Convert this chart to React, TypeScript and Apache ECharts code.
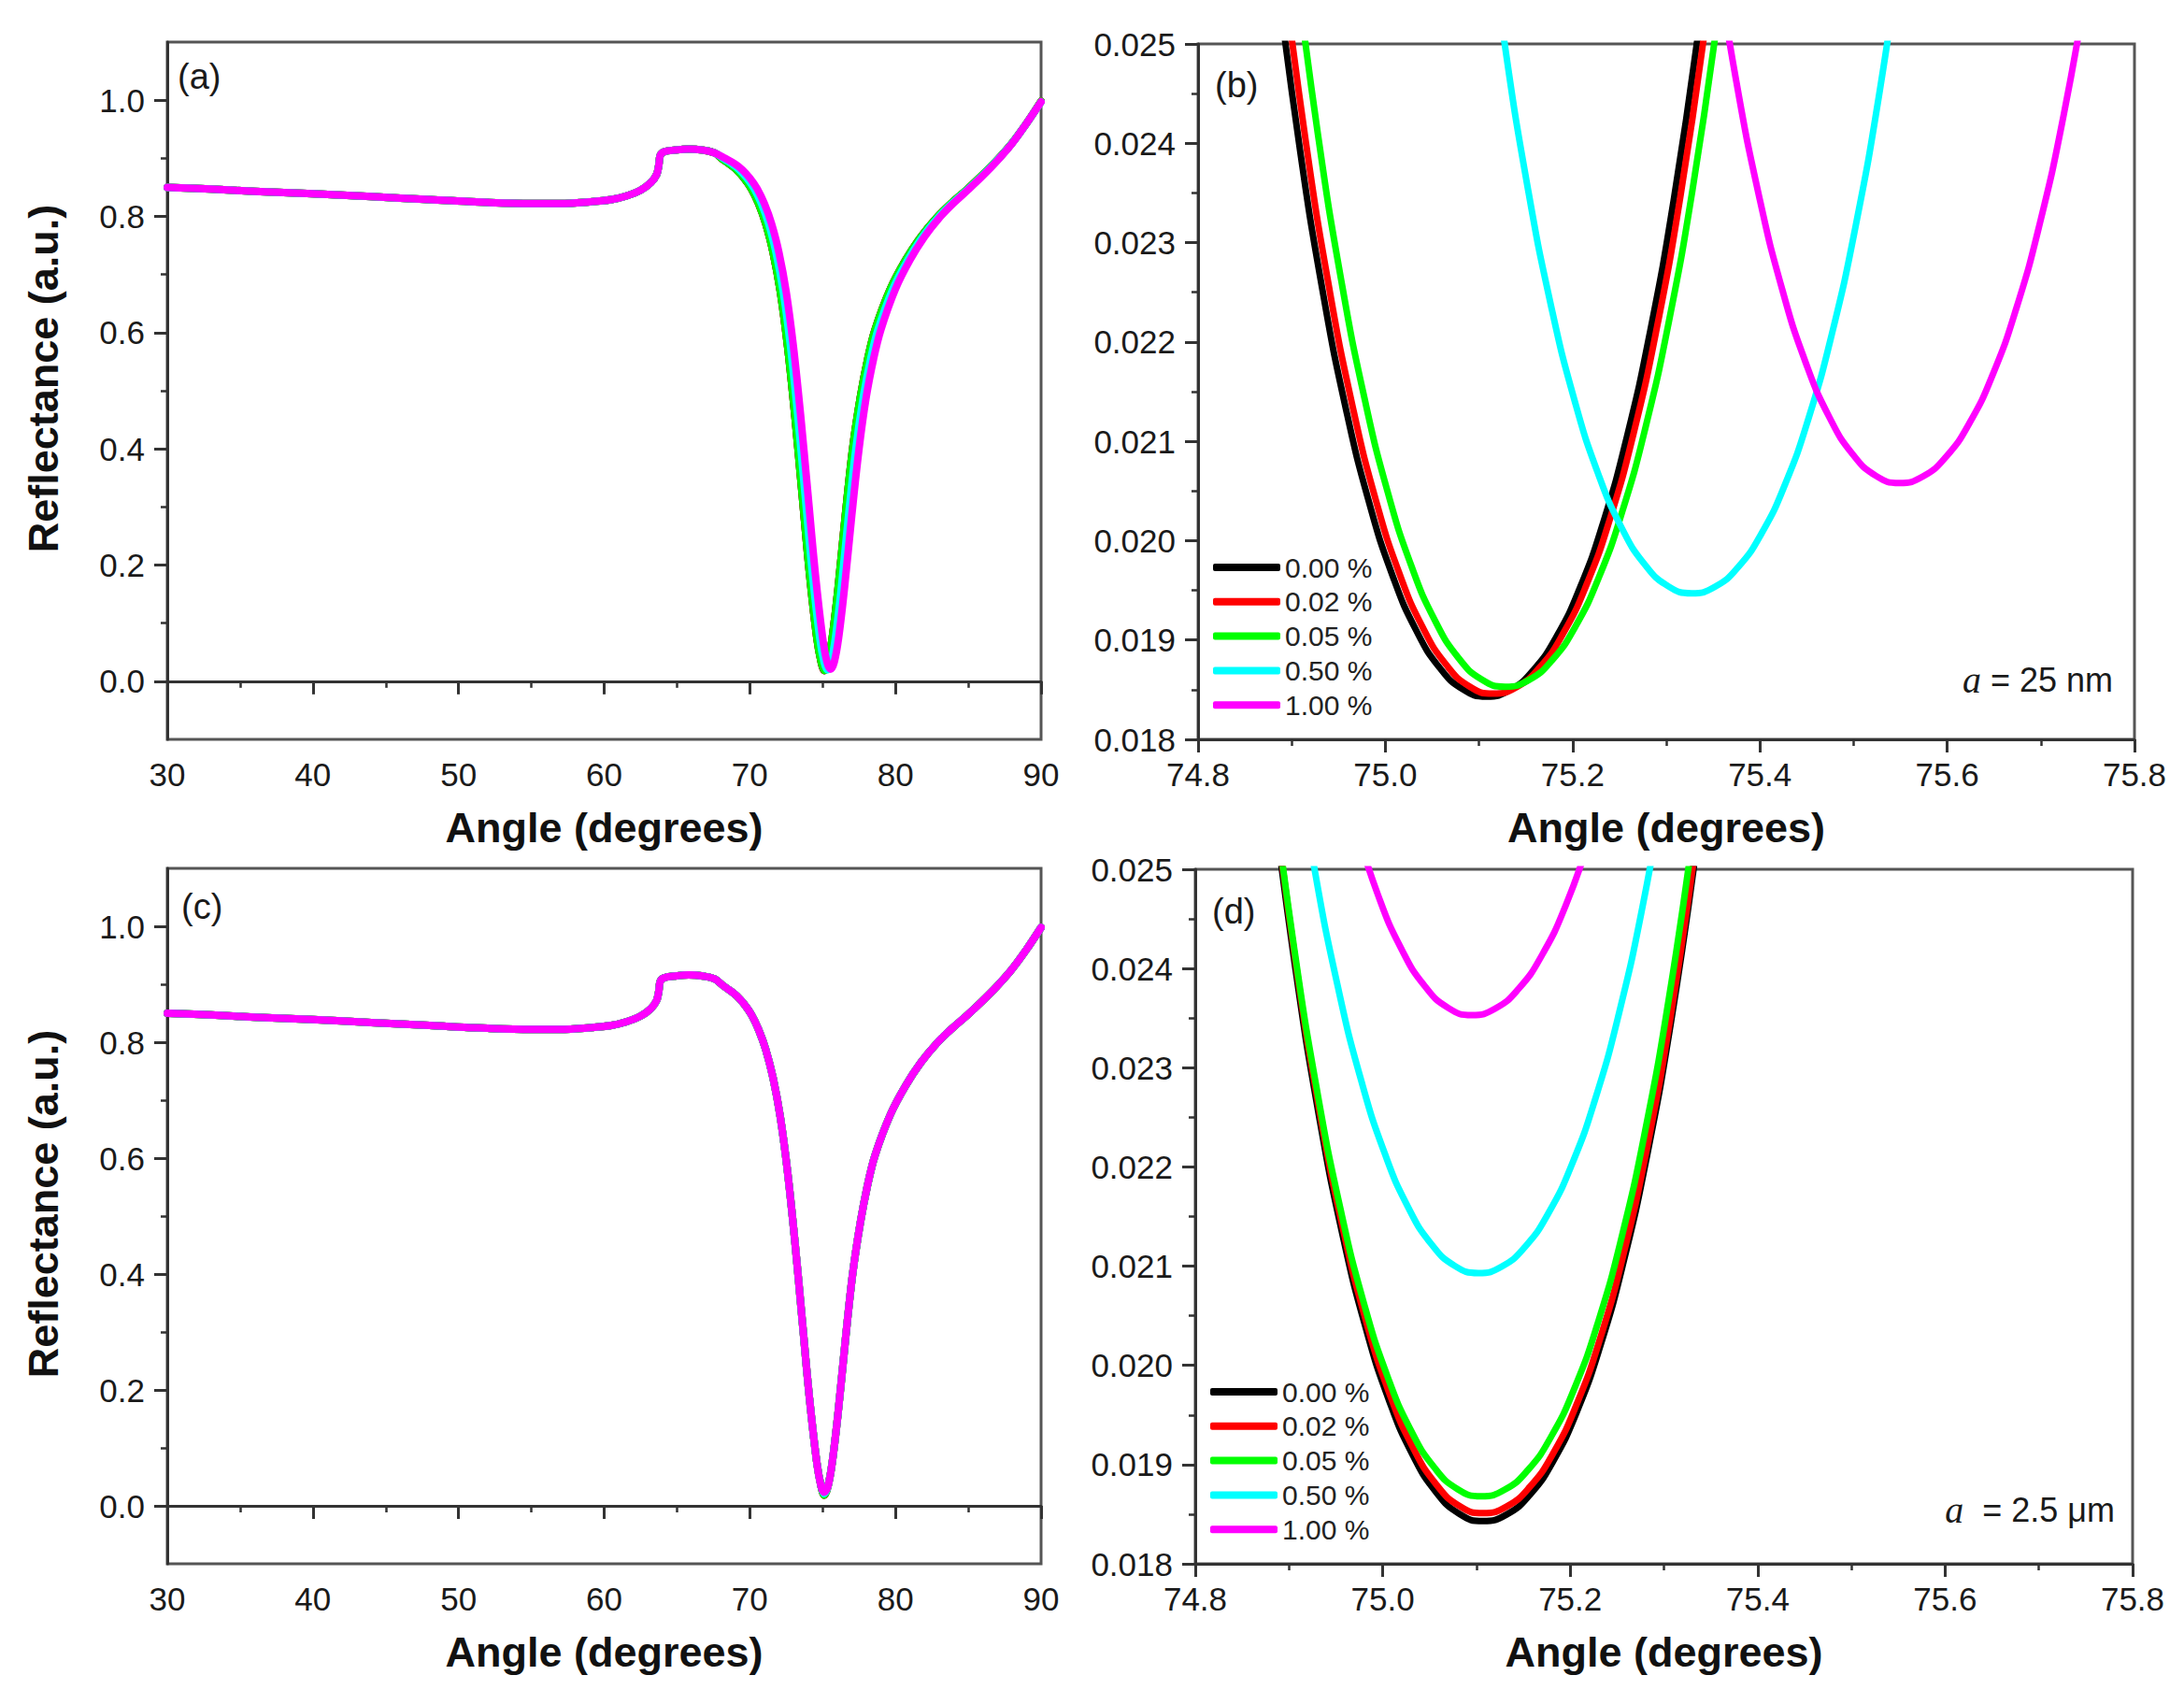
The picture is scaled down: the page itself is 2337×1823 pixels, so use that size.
import React, { useEffect, useRef } from 'react';
import * as echarts from 'echarts';

const FONT = '"Liberation Sans", Arial, Helvetica, sans-serif';

const SERIES_NAMES = ['0.00 %', '0.02 %', '0.05 %', '0.50 %', '1.00 %'];
const SERIES_COLORS = ['#000000', '#ff0000', '#00ff00', '#00ffff', '#ff00ff'];

// tick values
const wideXTicks = { min: 30, max: 90, interval: 10 };
const zoomXTicks = { min: 74.8, max: 75.8, interval: 0.2 };
const zoomYTicks = { min: 0.018, max: 0.025, interval: 0.001 };
const wideYMajor = [0, 0.2, 0.4, 0.6, 0.8, 1.0];
const wideYMinor = [0.1, 0.3, 0.5, 0.7, 0.9];

// ---------- panel (a)/(c): full angular scan ----------
const flatPart = [
  [30, 0.850], [33, 0.847], [36, 0.843], [40, 0.839], [44, 0.834], [48, 0.829],
  [52, 0.824], [55, 0.822], [57, 0.822], [59, 0.825], [60.5, 0.829], [61.5, 0.835],
  [62.5, 0.845], [63.2, 0.858], [63.6, 0.872], [63.75, 0.888], [63.85, 0.905],
  [64.1, 0.911], [64.8, 0.914], [65.8, 0.916], [66.8, 0.914], [67.6, 0.909],
];

const dipLeft000 = [
  [68.1, 0.899], [68.6, 0.890], [69.1, 0.880], [69.6, 0.866], [70.1, 0.848], [70.6, 0.822], [71.1, 0.787],
  [71.6, 0.738], [72.1, 0.670], [72.6, 0.575], [73.1, 0.455], [73.6, 0.320], [74.1, 0.185],
  [74.6, 0.075], [74.9, 0.033],
];
const dipRight000 = [
  [75.36, 0.033], [75.66, 0.075], [76.06, 0.160], [76.56, 0.285], [77.06, 0.400], [77.6, 0.490],
  [78.1, 0.555], [78.6, 0.605], [79.65, 0.675], [80.7, 0.725], [81.75, 0.765], [82.8, 0.797],
  [83.85, 0.823], [84.9, 0.846], [85.92, 0.870], [86.95, 0.896], [87.97, 0.925], [89, 0.960], [90, 0.998],
];
const dipLeft050 = [
  [68.3, 0.898], [68.8, 0.890], [69.3, 0.880], [69.8, 0.866], [70.3, 0.848], [70.8, 0.822], [71.3, 0.787],
  [71.8, 0.738], [72.3, 0.670], [72.8, 0.575], [73.3, 0.455], [73.8, 0.320], [74.3, 0.185],
  [74.8, 0.075], [75.1, 0.033],
];
const dipRight050 = [
  [75.58, 0.033], [75.88, 0.075], [76.28, 0.160], [76.78, 0.285], [77.28, 0.400], [77.8, 0.490],
  [78.3, 0.555], [78.8, 0.605], [79.82, 0.675], [80.85, 0.725], [81.87, 0.765], [82.9, 0.797],
  [83.92, 0.823], [84.95, 0.846], [85.96, 0.870], [86.97, 0.896], [87.98, 0.925], [89, 0.960], [90, 0.997],
];
const dipLeft100 = [
  [68.3, 0.900], [69, 0.890], [69.5, 0.880], [70, 0.866], [70.5, 0.848], [71, 0.822], [71.5, 0.787],
  [72, 0.738], [72.5, 0.670], [73, 0.575], [73.5, 0.455], [74, 0.320], [74.5, 0.185],
  [75, 0.075], [75.3, 0.033],
];
const dipRight100 = [
  [75.8, 0.033], [76.1, 0.075], [76.5, 0.160], [77, 0.285], [77.5, 0.400], [78, 0.490],
  [78.5, 0.555], [79, 0.605], [80, 0.675], [81, 0.725], [82, 0.765], [83, 0.797],
  [84, 0.823], [85, 0.846], [86, 0.870], [87, 0.896], [88, 0.925], [89, 0.960], [90, 0.997],
];
// resonance minima (angle, reflectance) per concentration
const minimaA = [[75.11, 0.0184], [75.12, 0.0185], [75.13, 0.0185], [75.33, 0.0195], [75.55, 0.0206]];
const minimaC = [[75.11, 0.0184], [75.11, 0.0185], [75.11, 0.0187], [75.10, 0.0209], [75.10, 0.0235]];

// ---------- panel (b): a = 25 nm ----------
const b000 = [[74.883, 0.02579], [74.908, 0.02399], [74.933, 0.022515], [74.958, 0.021322], [74.983, 0.020373], [75.008, 0.01964], [75.033, 0.019096], [75.058, 0.018721], [75.083, 0.018502], [75.108, 0.01843], [75.133, 0.018496], [75.158, 0.018696], [75.183, 0.019037], [75.208, 0.01953], [75.233, 0.020193], [75.258, 0.021046], [75.283, 0.022115], [75.308, 0.02343], [75.333, 0.025028]];
const b002 = [[74.890, 0.02582], [74.915, 0.02402], [74.940, 0.022545], [74.965, 0.021352], [74.990, 0.020403], [75.015, 0.01967], [75.040, 0.019126], [75.065, 0.018751], [75.090, 0.018532], [75.115, 0.01846], [75.140, 0.018526], [75.165, 0.018726], [75.190, 0.019067], [75.215, 0.01956], [75.240, 0.020223], [75.265, 0.021076], [75.290, 0.022145], [75.315, 0.02346], [75.340, 0.025058]];
const b005 = [[74.903, 0.02589], [74.928, 0.02409], [74.953, 0.022615], [74.978, 0.021422], [75.003, 0.020473], [75.028, 0.01974], [75.053, 0.019196], [75.078, 0.018821], [75.103, 0.018602], [75.128, 0.01853], [75.153, 0.018596], [75.178, 0.018796], [75.203, 0.019137], [75.228, 0.01963], [75.253, 0.020293], [75.278, 0.021146], [75.303, 0.022215], [75.328, 0.02353], [75.353, 0.025128]];
const b050 = [[75.102, 0.02683], [75.127, 0.02503], [75.152, 0.023555], [75.177, 0.022362], [75.202, 0.021413], [75.227, 0.02068], [75.252, 0.020136], [75.277, 0.019761], [75.302, 0.019542], [75.327, 0.01947], [75.352, 0.019536], [75.377, 0.019736], [75.402, 0.020077], [75.427, 0.02057], [75.452, 0.021233], [75.477, 0.022086], [75.502, 0.023155], [75.527, 0.02447], [75.552, 0.026068]];
const b100 = [[75.349, 0.02614], [75.374, 0.024665], [75.399, 0.023472], [75.424, 0.022523], [75.449, 0.02179], [75.474, 0.021246], [75.499, 0.020871], [75.524, 0.020652], [75.549, 0.02058], [75.574, 0.020646], [75.599, 0.020846], [75.624, 0.021187], [75.649, 0.02168], [75.674, 0.022343], [75.699, 0.023196], [75.724, 0.024265], [75.749, 0.02558]];

// ---------- panel (d): a = 2.5 um ----------
const d000 = [[74.882, 0.02579], [74.907, 0.02399], [74.932, 0.022515], [74.957, 0.021322], [74.982, 0.020373], [75.007, 0.01964], [75.032, 0.019096], [75.057, 0.018721], [75.082, 0.018502], [75.107, 0.01843], [75.132, 0.018496], [75.157, 0.018696], [75.182, 0.019037], [75.207, 0.01953], [75.232, 0.020193], [75.257, 0.021046], [75.282, 0.022115], [75.307, 0.02343], [75.332, 0.025028]];
const d002 = [[74.882, 0.02587], [74.907, 0.02407], [74.932, 0.022595], [74.957, 0.021402], [74.982, 0.020453], [75.007, 0.01972], [75.032, 0.019176], [75.057, 0.018801], [75.082, 0.018582], [75.107, 0.01851], [75.132, 0.018576], [75.157, 0.018776], [75.182, 0.019117], [75.207, 0.01961], [75.232, 0.020273], [75.257, 0.021126], [75.282, 0.022195], [75.307, 0.02351], [75.332, 0.025108]];
const d005 = [[74.880, 0.02604], [74.905, 0.02424], [74.930, 0.022765], [74.955, 0.021572], [74.980, 0.020623], [75.005, 0.01989], [75.030, 0.019346], [75.055, 0.018971], [75.080, 0.018752], [75.105, 0.01868], [75.130, 0.018746], [75.155, 0.018946], [75.180, 0.019287], [75.205, 0.01978], [75.230, 0.020443], [75.255, 0.021296], [75.280, 0.022365], [75.305, 0.02368], [75.330, 0.025278]];
const d050 = [[74.902, 0.02649], [74.927, 0.025015], [74.952, 0.023822], [74.977, 0.022873], [75.002, 0.02214], [75.027, 0.021596], [75.052, 0.021221], [75.077, 0.021002], [75.102, 0.02093], [75.127, 0.020996], [75.152, 0.021196], [75.177, 0.021537], [75.202, 0.02203], [75.227, 0.022693], [75.252, 0.023546], [75.277, 0.024615], [75.302, 0.02593]];
const d100 = [[74.970, 0.025473], [74.995, 0.02474], [75.020, 0.024196], [75.045, 0.023821], [75.070, 0.023602], [75.095, 0.02353], [75.120, 0.023596], [75.145, 0.023796], [75.170, 0.024137], [75.195, 0.02463], [75.220, 0.025293]];

const aLeft = [dipLeft000, dipLeft000, dipLeft000, dipLeft050, dipLeft100];
const aRight = [dipRight000, dipRight000, dipRight000, dipRight050, dipRight100];
const bData = [b000, b002, b005, b050, b100];
const dData = [d000, d002, d005, d050, d100];

const App: React.FC = () => {
  const ref = useRef<HTMLDivElement>(null);

  useEffect(() => {
    document.body.style.margin = '0';
    if (!ref.current) return;
    const chart = echarts.init(ref.current, undefined, { renderer: 'svg' });

    const axisLine = { show: true, lineStyle: { color: '#333', width: 3 } };
    const axisTick = { show: true, length: 14, lineStyle: { color: '#333', width: 3 } };
    const minorTick = { show: true, splitNumber: 2, length: 7, lineStyle: { color: '#333', width: 2.5 } };
    const labelStyle = { fontSize: 35, color: '#1a1a1a', fontFamily: FONT };
    const nameStyle = { fontSize: 45, fontWeight: 'bold', color: '#111', fontFamily: FONT };

    const grids = [
      { left: 179, top: 45, width: 935, height: 746 },
      { left: 1282, top: 47, width: 1002, height: 744 },
      { left: 179, top: 929, width: 935, height: 744 },
      { left: 1279, top: 930, width: 1003, height: 743 },
    ].map((g) => ({ ...g, show: true, borderColor: '#555', borderWidth: 3, backgroundColor: 'transparent' }));

    const makeX = (gridIndex: number, t: any, digits: number) => ({
      type: 'value', gridIndex, min: t.min, max: t.max, interval: t.interval,
      name: 'Angle (degrees)', nameLocation: 'middle', nameGap: 72, nameTextStyle: nameStyle,
      axisLine, axisTick, minorTick, splitLine: { show: false }, minorSplitLine: { show: false },
      axisLabel: { ...labelStyle, margin: 20, formatter: (v: number) => v.toFixed(digits) },
    });

    const xAxis = [makeX(0, wideXTicks, 0), makeX(1, zoomXTicks, 1), makeX(2, wideXTicks, 0), makeX(3, zoomXTicks, 1)];

    const wideYMain = (gridIndex: number) => ({
      type: 'value', gridIndex, min: -0.1, max: 1.1, position: 'left',
      name: 'Reflectance (a.u.)', nameLocation: 'middle', nameGap: 110,
      nameTextStyle: { ...nameStyle, padding: [0, 0, 0, 26] },
      axisLine, axisTick: { ...axisTick, customValues: wideYMajor },
      splitLine: { show: false },
      axisLabel: { ...labelStyle, margin: 24, customValues: wideYMajor, formatter: (v: number) => v.toFixed(1) },
    });
    const wideYMinorAxis = (gridIndex: number) => ({
      type: 'value', gridIndex, min: -0.1, max: 1.1, position: 'left', offset: 0,
      axisLine: { show: false }, splitLine: { show: false }, axisLabel: { show: false },
      axisTick: { show: true, length: 7, lineStyle: { color: '#333', width: 2.5 }, customValues: wideYMinor },
    });
    const zoomY = (gridIndex: number) => ({
      type: 'value', gridIndex, min: zoomYTicks.min, max: zoomYTicks.max, interval: zoomYTicks.interval,
      position: 'left', axisLine, axisTick, minorTick, splitLine: { show: false }, minorSplitLine: { show: false },
      axisLabel: { ...labelStyle, margin: 24, formatter: (v: number) => v.toFixed(3) },
    });

    // yAxis indices: 0 a-main, 1 a-minor, 2 b, 3 c-main, 4 c-minor, 5 d
    const yAxis = [wideYMain(0), wideYMinorAxis(0), zoomY(1), wideYMain(2), wideYMinorAxis(2), zoomY(3)];

    const series: any[] = [];
    const addSeries = (xi: number, yi: number, datas: any[], width: number, smooth: number) => {
      datas.forEach((data, i) => {
        series.push({
          type: 'line', name: SERIES_NAMES[i], xAxisIndex: xi, yAxisIndex: yi, data,
          showSymbol: false, symbol: 'none', smooth,
          lineStyle: { color: SERIES_COLORS[i], width, cap: 'round', join: 'round' },
          itemStyle: { color: SERIES_COLORS[i] }, emphasis: { disabled: true }, clip: true,
        });
      });
    };
    const aData = SERIES_NAMES.map((_, i) => [...flatPart, ...aLeft[i], minimaA[i], ...aRight[i]]);
    const cData = SERIES_NAMES.map((_, i) => [...flatPart, ...dipLeft000, minimaC[i], ...dipRight000]);
    addSeries(0, 0, aData, 8, 0.35);
    addSeries(1, 2, bData, 7, 0.5);
    addSeries(2, 3, cData, 8, 0.35);
    addSeries(3, 5, dData, 7, 0.5);

    const legendBase = {
      data: SERIES_NAMES, orient: 'vertical', itemWidth: 72, itemHeight: 8, itemGap: 6.8,
      icon: 'roundRect', padding: 0, selectedMode: false,
      textStyle: { fontSize: 30, lineHeight: 30, color: '#222', fontFamily: FONT },
    };

    const txt = (text: string, x: number, y: number, size = 38, align = 'left', rich?: any) => ({
      type: 'text', x, y, silent: true,
      style: { text, fontSize: size, fontFamily: FONT, fill: '#1a1a1a', align, verticalAlign: 'middle', rich },
    });
    const italicA = { i: { fontStyle: 'italic', fontFamily: '"Liberation Serif", "DejaVu Serif", serif', fontSize: 40, fill: '#1a1a1a' } };

    chart.setOption({
      animation: false,
      backgroundColor: '#ffffff',
      textStyle: { fontFamily: FONT },
      grid: grids,
      xAxis,
      yAxis,
      legend: [
        { ...legendBase, left: 1298, top: 592 },
        { ...legendBase, left: 1295, top: 1474 },
      ],
      graphic: [
        txt('(a)', 190, 82),
        txt('(b)', 1300, 91),
        txt('(c)', 194, 970),
        txt('(d)', 1297, 975),
        txt('{i|a} = 25 nm', 2261, 727, 36, 'right', italicA),
        txt('{i|a}  = 2.5 μm', 2263, 1615, 36, 'right', italicA),
      ],
      series,
    });

    return () => chart.dispose();
  }, []);

  return <div ref={ref} style={{ width: 2337, height: 1823, background: '#fff' }} />;
};

export default App;
